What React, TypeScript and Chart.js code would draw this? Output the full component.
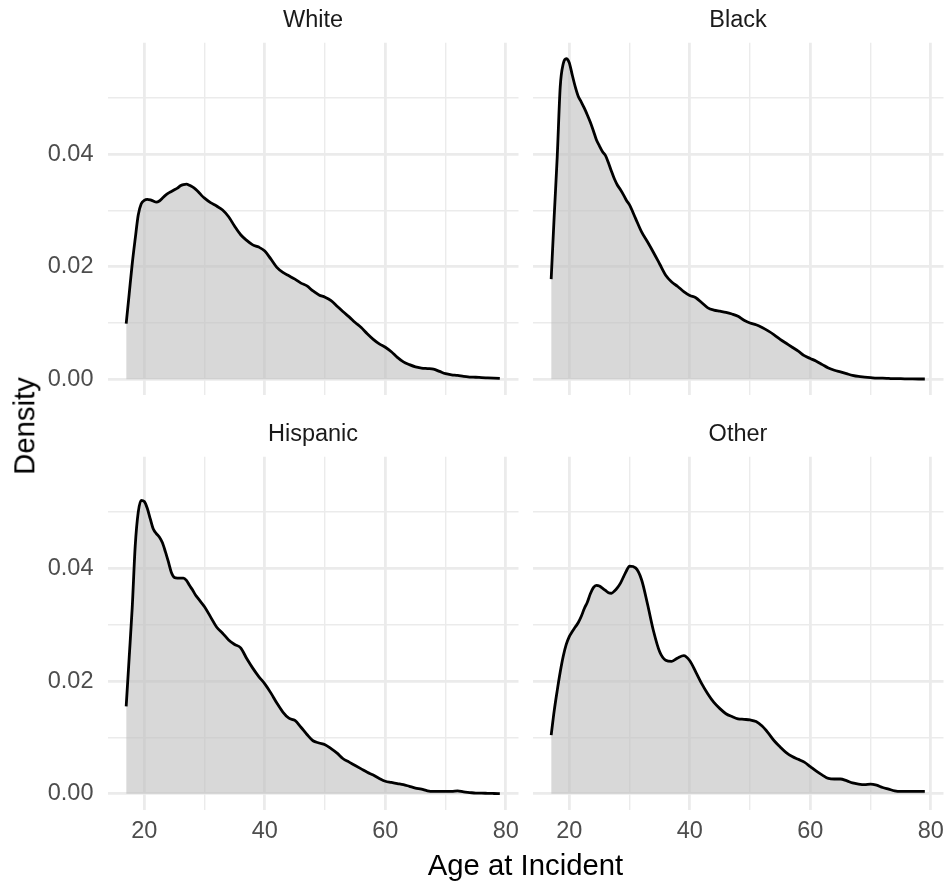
import React, { useEffect, useRef } from "react";
import { Chart, registerables } from "chart.js";

Chart.register(...registerables);

// Age grid (x values of the density estimates)
const ages = [
  17, 17.5, 18, 18.5, 19, 19.5, 20, 20.5, 21, 21.5, 22, 22.5, 23, 23.5, 24, 24.5,
  25, 25.5, 26, 26.5, 27, 27.5, 28, 28.5, 29, 29.5, 30,
  31, 32, 33, 34, 35, 36, 37, 38, 39, 40,
  41, 42, 43, 44, 45, 46, 47, 48, 49, 50,
  51, 52, 53, 54, 55, 56, 57, 58, 59, 60,
  61, 62, 63, 64, 65, 66, 67, 68, 69, 70,
  71, 72, 73, 74, 75, 76, 77, 78, 79,
];

const whiteDensity = [
  0.0099, 0.0152, 0.0205, 0.025, 0.0292, 0.0312, 0.0318, 0.032, 0.0319, 0.0317, 0.0315, 0.0317,
  0.0322, 0.0327, 0.0331, 0.0334, 0.0337, 0.034, 0.0344, 0.0346, 0.0347, 0.0345, 0.0342, 0.0338,
  0.0333, 0.0327, 0.0322,
  0.0314, 0.0308, 0.0301, 0.0289, 0.0272, 0.0257, 0.0247, 0.0239, 0.0235, 0.0228,
  0.0214, 0.0199, 0.019, 0.0184, 0.0178, 0.0171, 0.0166, 0.0157, 0.015, 0.0146,
  0.014, 0.013, 0.012, 0.0111, 0.0101, 0.0092, 0.0081, 0.0071, 0.0063, 0.0057,
  0.0049, 0.0039, 0.0031, 0.0026, 0.0022, 0.002, 0.0019, 0.0018, 0.0014, 0.001,
  0.0008, 0.0007, 0.0005, 0.0004, 0.00036, 0.0003, 0.00025, 0.0002, 0.00015,
];

const blackDensity = [
  0.0178, 0.029, 0.0395, 0.052, 0.0561, 0.057, 0.0563, 0.0541, 0.052, 0.0503, 0.0493, 0.0482,
  0.047, 0.0457, 0.0442, 0.0426, 0.0415, 0.0405, 0.0398, 0.0385, 0.037, 0.0356, 0.0345, 0.0337,
  0.0328, 0.0318, 0.031,
  0.0286, 0.0262, 0.0244, 0.0225, 0.0205, 0.0185, 0.0173, 0.0165, 0.0156, 0.0149,
  0.0145, 0.0136, 0.0127, 0.0123, 0.0121, 0.0119, 0.0116, 0.0112, 0.0105, 0.01,
  0.0097, 0.0092, 0.0086, 0.0079, 0.0071, 0.0064, 0.0057, 0.005, 0.0042, 0.0037,
  0.0032, 0.0026, 0.002, 0.0016, 0.0013, 0.001, 0.0007, 0.0005, 0.0004, 0.0003,
  0.0002, 0.0002, 0.00015, 0.0001, 0.0001, 0.00008, 0.00006, 0.00005, 0.00005,
];

const hispanicDensity = [
  0.0155, 0.0242, 0.033, 0.044, 0.05, 0.0521, 0.0519, 0.0507, 0.0488, 0.047, 0.0462, 0.0456,
  0.0446, 0.043, 0.0412, 0.0393, 0.0384, 0.0383, 0.0383, 0.0383, 0.0379, 0.037, 0.0362, 0.0353,
  0.0346, 0.0339, 0.0332,
  0.0314, 0.0296, 0.0285, 0.0273, 0.0265, 0.0259, 0.024, 0.0223, 0.0208, 0.0195,
  0.0179, 0.0161, 0.0145, 0.0134, 0.013, 0.0118, 0.0105, 0.0094, 0.009, 0.0087,
  0.008, 0.0072, 0.0062, 0.0056, 0.005, 0.0044, 0.0038, 0.0033, 0.0027, 0.0022,
  0.002, 0.0018, 0.0016, 0.0013, 0.001, 0.0008, 0.0005, 0.0004, 0.0004, 0.0004,
  0.0004, 0.0005, 0.0003, 0.0002, 0.0001, 0.0001, 0.00005, 0.00003, 0.00002,
];

const otherDensity = [
  0.0104, 0.0147, 0.0183, 0.0216, 0.0244, 0.0265, 0.0279, 0.0288, 0.0296, 0.0304, 0.0315, 0.0329,
  0.034, 0.0355, 0.0366, 0.037, 0.0369, 0.0365, 0.0361, 0.0357, 0.0356, 0.036, 0.0366, 0.0374,
  0.0385, 0.0396, 0.0404,
  0.0401, 0.038, 0.0336, 0.0288, 0.0252, 0.0237, 0.0235, 0.0241, 0.0245, 0.0236,
  0.0216, 0.0195, 0.0177, 0.0162, 0.0151, 0.0142, 0.0137, 0.0133, 0.0132, 0.0131,
  0.0128, 0.012, 0.0108, 0.0094, 0.0083, 0.0073, 0.0066, 0.0061, 0.0056, 0.0048,
  0.004, 0.0033, 0.0027, 0.0026, 0.0026, 0.0023, 0.0019, 0.0017, 0.0016, 0.0017,
  0.0015, 0.0011, 0.0008, 0.0005, 0.0004, 0.0004, 0.0004, 0.0004, 0.0004,
];

const panelTitles = ["White", "Black", "Hispanic", "Other"];
const xTickValues = [20, 30, 40, 50, 60, 70, 80];
const xTickLabels = ["20", "", "40", "", "60", "", "80"];
const yTickValues = [0, 0.01, 0.02, 0.03, 0.04, 0.05];
const yTickLabels = ["0.00", "", "0.02", "", "0.04", ""];
const xTitle = "Age at Incident";
const yTitle = "Density";

const allSeries = [whiteDensity, blackDensity, hispanicDensity, otherDensity];

const FONT = '"Liberation Sans", Arial, Helvetica, sans-serif';

// layout geometry (pixels)
const COLS = [
  { L: 107.5, R: 518.5, cl: 0, cw: 525 },
  { L: 532.5, R: 943.5, cl: 525, cw: 422 },
];
const ROWS = [
  { T: 42.7, B: 395.3, ct: 0, ch: 410 },
  { T: 456.7, B: 809.7, ct: 410, ch: 474 },
];

const xRange = ages[ages.length - 1] - ages[0];
const xMin = ages[0] - 0.05 * xRange;
const xMax = ages[ages.length - 1] + 0.05 * xRange;
const dMax = Math.max(...allSeries.map((s) => Math.max(...s)));
const yMin = -0.05 * dMax;
const yMax = 1.05 * dMax;

function Panel({ values, col, row }: { values: number[]; col: number; row: number }) {
  const ref = useRef<HTMLCanvasElement>(null);
  const c = COLS[col];
  const r = ROWS[row];
  useEffect(() => {
    const chart = new Chart(ref.current as HTMLCanvasElement, {
      type: "line",
      data: {
        datasets: [
          {
            data: ages.map((a, i) => ({ x: a, y: values[i] })),
            borderColor: "#000000",
            borderWidth: 2.8,
            backgroundColor: "rgba(190,190,190,0.6)",
            fill: "origin",
            pointRadius: 0,
            cubicInterpolationMode: "monotone",
            borderJoinStyle: "round",
            borderCapStyle: "butt",
          } as any,
        ],
      },
      options: {
        responsive: false,
        animation: false,
        devicePixelRatio: 1,
        events: [],
        layout: {
          padding: { left: 0, top: r.T - r.ct, right: c.cl + c.cw - c.R, bottom: 0 },
        },
        plugins: {
          legend: { display: false },
          tooltip: { enabled: false },
          title: { display: false },
        },
        scales: {
          x: {
            type: "linear",
            min: xMin,
            max: xMax,
            afterBuildTicks: (s: any) => {
              s.ticks = xTickValues.map((v) => ({ value: v }));
            },
            afterFit: (s: any) => {
              s.height = r.ct + r.ch - r.B;
              s.paddingLeft = 0;
              s.paddingRight = 0;
              s.paddingTop = 0;
              s.paddingBottom = 0;
            },
            ticks: {
              display: row === 1,
              autoSkip: false,
              maxRotation: 0,
              minRotation: 0,
              padding: 8,
              color: "#4D4D4D",
              font: { family: FONT, size: 23.5 },
              callback: (v: any) => {
                const i = xTickValues.indexOf(Number(v));
                return i >= 0 ? xTickLabels[i] : "";
              },
            },
            grid: {
              color: "#EBEBEB",
              drawTicks: false,
              lineWidth: (ctx: any) => {
                const i = ctx.tick ? xTickValues.indexOf(ctx.tick.value) : -1;
                return i >= 0 && xTickLabels[i] !== "" ? 2.8 : 1.4;
              },
            },
            border: { display: false },
          },
          y: {
            type: "linear",
            min: yMin,
            max: yMax,
            afterBuildTicks: (s: any) => {
              s.ticks = yTickValues.map((v) => ({ value: v }));
            },
            afterFit: (s: any) => {
              s.width = c.L - c.cl;
              s.paddingLeft = 0;
              s.paddingRight = 0;
              s.paddingTop = 0;
              s.paddingBottom = 0;
            },
            ticks: {
              display: col === 0,
              autoSkip: false,
              padding: 14,
              color: "#4D4D4D",
              font: { family: FONT, size: 23.5 },
              callback: (v: any) => {
                const i = yTickValues.findIndex((t) => Math.abs(t - Number(v)) < 1e-9);
                return i >= 0 ? yTickLabels[i] : "";
              },
            },
            grid: {
              color: "#EBEBEB",
              drawTicks: false,
              lineWidth: (ctx: any) => {
                const i = ctx.tick
                  ? yTickValues.findIndex((t) => Math.abs(t - ctx.tick.value) < 1e-9)
                  : -1;
                return i >= 0 && yTickLabels[i] !== "" ? 2.8 : 1.4;
              },
            },
            border: { display: false },
          },
        },
      } as any,
    });
    return () => chart.destroy();
  }, []);
  return (
    <canvas
      ref={ref}
      width={c.cw}
      height={r.ch}
      style={{
        position: "absolute",
        left: c.cl,
        top: r.ct,
        width: c.cw,
        height: r.ch,
        display: "block",
      }}
    />
  );
}

export default function App() {
  const stripSize = 23.5;
  const titleSize = 29.3;
  return (
    <div
      style={{
        position: "absolute",
        left: 0,
        top: 0,
        width: 947,
        height: 884,
        background: "#FFFFFF",
        overflow: "hidden",
        fontFamily: FONT,
      }}
    >
      {allSeries.map((s, i) => (
        <Panel key={i} values={s} col={i % 2} row={Math.floor(i / 2)} />
      ))}
      {panelTitles.map((t, i) => {
        const c = COLS[i % 2];
        const r = ROWS[Math.floor(i / 2)];
        const cy = r.T - 22.7;
        return (
          <div
            key={t}
            style={{
              position: "absolute",
              left: c.L,
              width: c.R - c.L,
              top: cy - 0.49 * stripSize,
              textAlign: "center",
              fontSize: stripSize,
              lineHeight: `${stripSize}px`,
              color: "#1A1A1A",
              whiteSpace: "nowrap",
            }}
          >
            {t}
          </div>
        );
      })}
      <div
        style={{
          position: "absolute",
          left: COLS[0].L,
          width: COLS[1].R - COLS[0].L,
          top: 864 - 0.49 * titleSize,
          textAlign: "center",
          fontSize: titleSize,
          lineHeight: `${titleSize}px`,
          color: "#000000",
          whiteSpace: "nowrap",
        }}
      >
        {xTitle}
      </div>
      <div
        style={{
          position: "absolute",
          left: 23.5,
          top: (ROWS[0].T + ROWS[1].B) / 2,
          transform: "translate(-50%, -50%) rotate(-90deg)",
          fontSize: titleSize,
          lineHeight: `${titleSize}px`,
          color: "#000000",
          whiteSpace: "nowrap",
        }}
      >
        {yTitle}
      </div>
    </div>
  );
}
